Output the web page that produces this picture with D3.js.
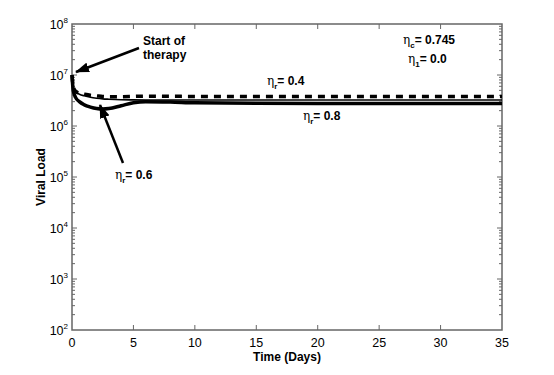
<!DOCTYPE html>
<html>
<head>
<meta charset="utf-8">
<script src="https://cdn.jsdelivr.net/npm/d3@7"></script>
<style>
  body { margin: 0; background: #fff; }
  text { font-family: "Liberation Sans", Arial, Helvetica, sans-serif; }
</style>
</head>
<body>
<div id="chart"></div>
<script>
// time points (days) and viral load for each eta_r value
const time   = [0, 0.1, 0.3, 0.6, 1, 1.5, 2, 2.5, 3, 4, 5, 6, 8, 10, 15, 20, 25, 30, 35];
const eta04  = [1e7, 6.0e6, 4.8e6, 4.4e6, 4.2e6, 4.0e6, 3.9e6, 3.8e6, 3.75e6, 3.75e6, 3.8e6, 3.85e6, 3.82e6, 3.8e6, 3.78e6, 3.78e6, 3.78e6, 3.78e6, 3.78e6];
const eta08  = [1e7, 5.5e6, 4.6e6, 4.2e6, 3.9e6, 3.65e6, 3.5e6, 3.4e6, 3.35e6, 3.28e6, 3.25e6, 3.24e6, 3.24e6, 3.24e6, 3.24e6, 3.24e6, 3.24e6, 3.24e6, 3.24e6];
const eta06  = [1e7, 5.0e6, 3.6e6, 3.0e6, 2.6e6, 2.35e6, 2.2e6, 2.15e6, 2.2e6, 2.5e6, 2.85e6, 3.0e6, 2.95e6, 2.85e6, 2.78e6, 2.76e6, 2.76e6, 2.76e6, 2.76e6];

const xTicks = [0, 5, 10, 15, 20, 25, 30, 35];
const yExps  = [2, 3, 4, 5, 6, 7, 8];

const width = 554, height = 375;
const margin = { top: 24, right: 52, bottom: 45, left: 72 };

const x = d3.scaleLinear().domain([0, 35]).range([margin.left, width - margin.right]);
const y = d3.scaleLog().domain([1e2, 1e8]).range([height - margin.bottom, margin.top]);

const svg = d3.select('#chart').append('svg')
    .attr('width', width)
    .attr('height', height);

svg.append('defs').append('marker')
    .attr('id', 'head')
    .attr('markerUnits', 'userSpaceOnUse')
    .attr('viewBox', '0 0 14 10')
    .attr('refX', 13).attr('refY', 5)
    .attr('markerWidth', 14).attr('markerHeight', 10)
    .attr('orient', 'auto')
    .append('path')
    .attr('d', 'M0,0 L14,5 L0,10 Z')
    .attr('fill', '#000');

const x0 = x.range()[0], x1 = x.range()[1];
const y0 = y.range()[0], y1 = y.range()[1];
const axisColor = '#666';

// ticks
const tickG = svg.append('g').attr('stroke', axisColor).attr('stroke-width', 1);
xTicks.slice(1, -1).forEach(t => {
    tickG.append('line').attr('x1', x(t)).attr('x2', x(t)).attr('y1', y0).attr('y2', y0 - 5);
    tickG.append('line').attr('x1', x(t)).attr('x2', x(t)).attr('y1', y1).attr('y2', y1 + 5);
});
yExps.forEach((e, i) => {
    const v = Math.pow(10, e);
    if (i > 0 && i < yExps.length - 1) {
        tickG.append('line').attr('x1', x0).attr('x2', x0 + 5).attr('y1', y(v)).attr('y2', y(v));
        tickG.append('line').attr('x1', x1).attr('x2', x1 - 5).attr('y1', y(v)).attr('y2', y(v));
    }
    if (e < 8) {
        for (let m = 2; m <= 9; m++) {
            const yy = y(m * v);
            tickG.append('line').attr('x1', x0).attr('x2', x0 + 3).attr('y1', yy).attr('y2', yy);
            tickG.append('line').attr('x1', x1).attr('x2', x1 - 3).attr('y1', yy).attr('y2', yy);
        }
    }
});

// frame
svg.append('rect')
    .attr('x', x0).attr('y', y1)
    .attr('width', x1 - x0).attr('height', y0 - y1)
    .attr('fill', 'none')
    .attr('stroke', axisColor)
    .attr('stroke-width', 1.5);

// tick labels
svg.append('g').selectAll('text')
    .data(xTicks)
    .join('text')
    .attr('x', d => x(d))
    .attr('y', y0 + 17)
    .attr('text-anchor', 'middle')
    .attr('font-size', 12.5)
    .text(d => d);

const yl = svg.append('g').selectAll('text')
    .data(yExps)
    .join('text')
    .attr('x', x0 - 4)
    .attr('y', d => y(Math.pow(10, d)) + 5)
    .attr('text-anchor', 'end')
    .attr('font-size', 12.5);
yl.append('tspan').text('10');
yl.append('tspan').attr('font-size', 8).attr('dy', -6).text(d => d);

// axis titles
svg.append('text')
    .attr('x', (x0 + x1) / 2)
    .attr('y', y0 + 31)
    .attr('text-anchor', 'middle')
    .attr('font-size', 12)
    .attr('font-weight', 'bold')
    .text('Time (Days)');

svg.append('text')
    .attr('transform', `translate(45,${(y0 + y1) / 2}) rotate(-90)`)
    .attr('text-anchor', 'middle')
    .attr('font-size', 12)
    .attr('font-weight', 'bold')
    .text('Viral Load');

// curves
const line = vals => d3.line()
    .x((d, i) => x(time[i]))
    .y(d => y(d))
    .curve(d3.curveMonotoneX)(vals);

svg.append('path')
    .attr('d', line(eta04))
    .attr('fill', 'none')
    .attr('stroke', '#000')
    .attr('stroke-width', 3.5)
    .attr('stroke-dasharray', '7,6');

svg.append('path')
    .attr('d', line(eta08))
    .attr('fill', 'none')
    .attr('stroke', '#000')
    .attr('stroke-width', 1.6);

svg.append('path')
    .attr('d', line(eta06))
    .attr('fill', 'none')
    .attr('stroke', '#000')
    .attr('stroke-width', 3.5);

// arrows
svg.append('line')
    .attr('x1', 139).attr('y1', 48)
    .attr('x2', 76).attr('y2', 72)
    .attr('stroke', '#000').attr('stroke-width', 2.5)
    .attr('marker-end', 'url(#head)');

svg.append('line')
    .attr('x1', 123).attr('y1', 163)
    .attr('x2', 100).attr('y2', 105)
    .attr('stroke', '#000').attr('stroke-width', 2.5)
    .attr('marker-end', 'url(#head)');

// annotations
const bold = (xx, yy, str) => svg.append('text')
    .attr('x', xx).attr('y', yy)
    .attr('font-size', 12)
    .attr('font-weight', 'bold')
    .text(str);

bold(143, 45, 'Start of');
bold(143, 59, 'therapy');

const etaLabel = (xx, yy, sub, rest) => {
    const t = svg.append('text')
        .attr('x', xx).attr('y', yy)
        .attr('font-size', 12);
    t.append('tspan').attr('font-family', '"DejaVu Serif", serif').attr('font-size', 12).text('η');
    t.append('tspan').attr('font-size', 8).attr('font-weight', 'bold').attr('dy', 4).text(sub);
    t.append('tspan').attr('font-weight', 'bold').attr('dy', -4).text('= ' + rest);
};

etaLabel(267, 85, 'r', '0.4');
etaLabel(303, 120, 'r', '0.8');
etaLabel(115, 179, 'r', '0.6');
etaLabel(403, 44, 'c', '0.745');
etaLabel(408, 63, '1', '0.0');
</script>
</body>
</html>
